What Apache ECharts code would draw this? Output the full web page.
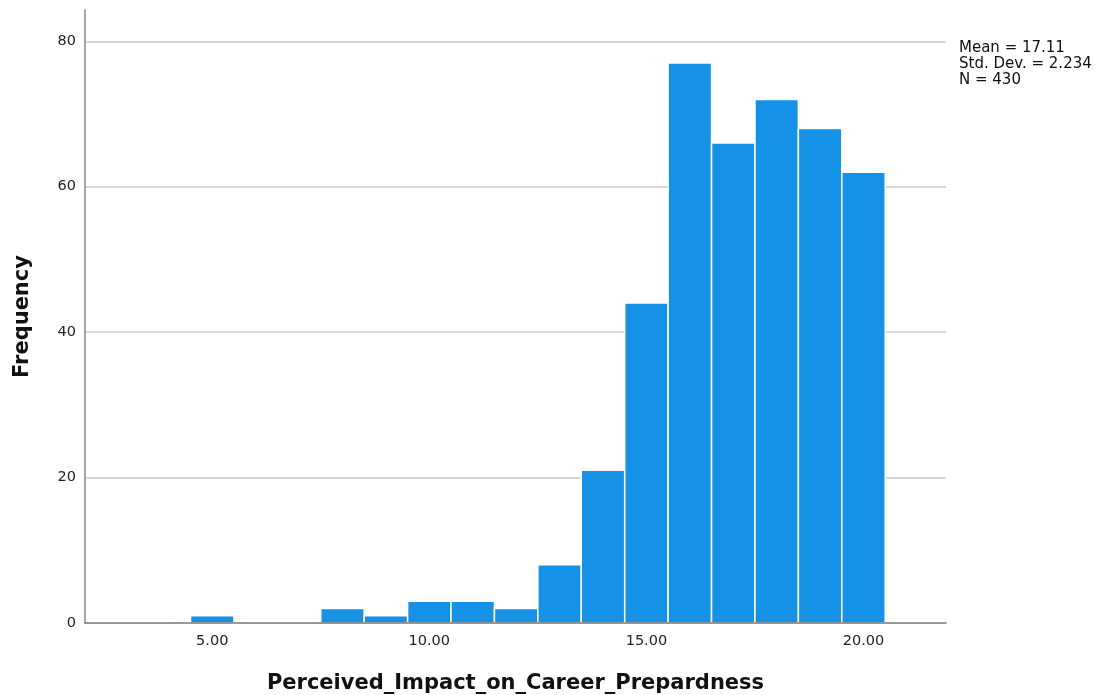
<!DOCTYPE html>
<html>
<head>
<meta charset="utf-8">
<script src="https://cdn.jsdelivr.net/npm/echarts@6/dist/echarts.min.js"></script>
<style>html,body{margin:0;padding:0;background:#fff;}#c{width:1100px;height:695px;}</style>
</head>
<body>
<div id="c"></div>
<script>
const binCenters = [5, 8, 9, 10, 11, 12, 13, 14, 15, 16, 17, 18, 19, 20];
const frequencies = [1, 2, 1, 3, 3, 2, 8, 21, 44, 77, 66, 72, 68, 62];
const xTickValues = [5, 10, 15, 20];
const yTickValues = [0, 20, 40, 60, 80];
const statsLines = ['Mean = 17.11', 'Std. Dev. = 2.234', 'N = 430'];
const xTitle = 'Perceived_Impact_on_Career_Prepardness';
const yTitle = 'Frequency';

const data = binCenters.map((c, i) => [c, frequencies[i]]);
const font = '"DejaVu Sans", sans-serif';

const chart = echarts.init(document.getElementById('c'), null, {renderer: 'canvas'});
chart.setOption({
  animation: false,
  backgroundColor: '#fff',
  grid: {left: 85, right: 154, top: 10, bottom: 72, containLabel: false, outerBoundsMode: 'none'},
  xAxis: {
    type: 'value', min: 2.07, max: 21.9, z: 5,
    name: xTitle, nameLocation: 'middle', nameGap: 50,
    nameTextStyle: {fontFamily: font, fontWeight: 'bold', fontSize: 21, color: '#111'},
    axisLine: {show: true, lineStyle: {color: '#777', width: 1.5}},
    axisTick: {show: false},
    splitLine: {show: false},
    axisLabel: {customValues: xTickValues, formatter: v => v.toFixed(2), fontFamily: font, fontSize: 14.5, color: '#222', margin: 11}
  },
  yAxis: {
    type: 'value', min: 0, max: 84.3, interval: 20,
    name: yTitle, nameLocation: 'middle', nameGap: 52,
    nameTextStyle: {fontFamily: font, fontWeight: 'bold', fontSize: 21, color: '#111'},
    axisLine: {show: true, lineStyle: {color: '#888', width: 1.5}},
    axisTick: {show: false},
    splitLine: {show: true, showMinLine: false, showMaxLine: false, lineStyle: {color: '#c8c8c8', width: 1.5}},
    axisLabel: {customValues: yTickValues, fontFamily: font, fontSize: 14.5, color: '#222', margin: 9}
  },
  series: [{
    type: 'custom',
    data: data,
    encode: {x: 0, y: 1},
    z: 2,
    renderItem: function (params, api) {
      const c = api.value(0), v = api.value(1);
      const p1 = api.coord([c - 0.5, v]);
      const p2 = api.coord([c + 0.5, 0]);
      return {
        type: 'rect',
        shape: {x: p1[0], y: p1[1], width: p2[0] - p1[0], height: p2[1] - p1[1]},
        style: {fill: '#1591e6', stroke: '#ffffff', lineWidth: 1.5}
      };
    }
  }],
  graphic: [{
    type: 'text', left: 959, top: 40,
    style: {text: statsLines.join('\n'), font: '15px ' + font, fill: '#111', lineHeight: 16}
  }]
});
</script>
</body>
</html>
